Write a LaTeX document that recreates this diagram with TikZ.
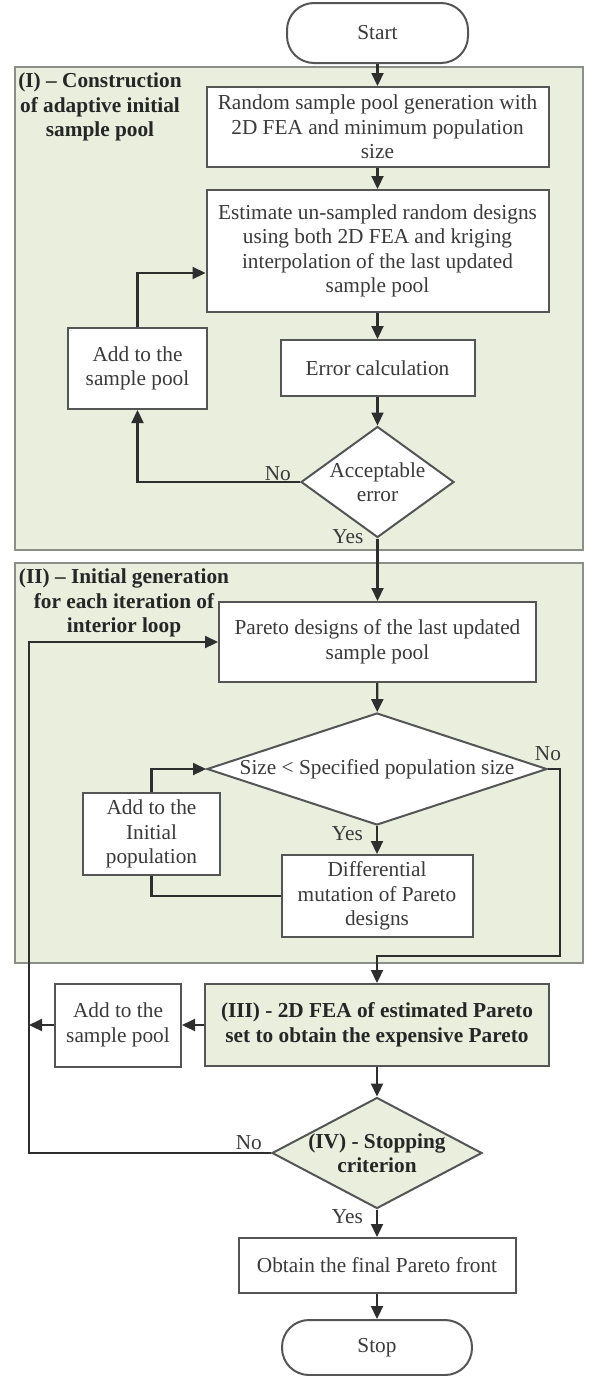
\documentclass[tikz,border=0pt]{standalone}
\usepackage{fontspec}
\setmainfont{Liberation Serif}
\usetikzlibrary{arrows.meta,shapes.geometric,calc}
\definecolor{secfill}{HTML}{E9EEDD}
\definecolor{secdraw}{HTML}{8C8F88}
\definecolor{boxdraw}{HTML}{555555}
\definecolor{txt}{HTML}{3A3A3A}
\definecolor{ttl}{HTML}{262626}
\definecolor{linec}{HTML}{2E2E2E}
\begin{document}
\begin{tikzpicture}[x=1pt,y=-1pt,
  font=\fontsize{21.3}{24.5}\selectfont,
  every node/.style={text=txt},
  sect/.style={draw=secdraw, fill=secfill, line width=2pt, minimum width=568pt, inner sep=0pt},
  proc/.style={draw=boxdraw, fill=white, line width=2pt, align=center, inner sep=0pt},
  gproc/.style={proc, fill=secfill, text=ttl, font=\bfseries\fontsize{21.3}{24.5}\selectfont},
  dec/.style={diamond, draw=boxdraw, fill=white, line width=2pt, inner sep=0pt},
  term/.style={draw=boxdraw, fill=white, line width=2pt, rounded corners=27pt, inner sep=0pt},
  sectitle/.style={font=\bfseries\fontsize{21.3}{24.5}\selectfont, align=center, text=ttl},
  conn/.style={draw=linec, line width=2.2pt, -{Triangle[length=13pt,width=12pt]}},
  plainline/.style={draw=linec, line width=2.2pt},
  lab/.style={inner sep=1pt}
]
\useasboundingbox (0,0) rectangle (591,1376);
% sections
\node[sect, minimum height=483pt] (secI) at (299,308.5) {};
\node[sect, minimum height=400pt] (secII) at (299,763) {};
\node[sectitle] (tI) at (100,107) {(I) – Construction\\of adaptive initial\\sample pool};
\node[sectitle] (tII) at (124,603) {(II) – Initial generation\\for each iteration of\\interior loop};
% nodes
\node[term, minimum width=181pt, minimum height=60pt] (start) at (377.5,33) {Start};
\node[proc, minimum width=342pt, minimum height=80pt] (b1) at (377.5,127) {Random sample pool generation with\\2D FEA and minimum population\\size};
\node[proc, minimum width=342pt, minimum height=122pt] (b2) at (377.5,251) {Estimate un-sampled random designs\\using both 2D FEA and kriging\\interpolation of the last updated\\sample pool};
\node[proc, minimum width=139pt, minimum height=81pt] (addI) at (137.5,368.5) {Add to the\\sample pool};
\node[proc, minimum width=194pt, minimum height=56pt] (err) at (377.5,368) {Error calculation};
\node[dec, minimum width=153pt, minimum height=111pt, label={[align=center]center:Acceptable\\error}] (d1) at (377.5,482) {};
\node[proc, minimum width=317pt, minimum height=80pt] (pareto) at (377.5,642) {Pareto designs of the last updated\\sample pool};
\node[dec, minimum width=340pt, minimum height=112pt, label={center:Size < Specified population size}] (d2) at (377,769) {};
\node[proc, minimum width=137pt, minimum height=82pt] (addII) at (151.5,834) {Add to the\\Initial\\population};
\node[proc, minimum width=191pt, minimum height=82pt] (diff) at (377,896) {Differential\\mutation of Pareto\\designs};
\node[gproc, minimum width=344pt, minimum height=82pt] (iii) at (377,1025) {(III) - 2D FEA of estimated Pareto\\set to obtain the expensive Pareto};
\node[proc, minimum width=126pt, minimum height=83pt] (addIII) at (118,1025) {Add to the\\sample pool};
\node[dec, fill=secfill, minimum width=210pt, minimum height=111pt, label={[align=center, text=ttl, font=\bfseries\fontsize{21.3}{24.5}\selectfont]center:(IV) - Stopping\\criterion}] (d3) at (377,1153) {};
\node[proc, minimum width=277pt, minimum height=55pt] (obtain) at (377,1265.5) {Obtain the final Pareto front};
\node[term, minimum width=190pt, minimum height=55pt] (stop) at (377,1347.5) {Stop};
% junction coordinates
\coordinate (j2) at (560,956);
\coordinate (j3) at (29,642);
\coordinate (j4) at (29,1025);
% connectors
\draw[conn] (start) -- (b1);
\draw[conn] (b1) -- (b2);
\draw[conn] (b2) -- (err);
\draw[conn] (err) -- (d1);
\draw[conn] (d1.west) -| (addI.south);
\draw[conn] (addI.north) |- ([yshift=-22pt]b2.west);
\draw[conn] (d1.south) -- (pareto.north);
\draw[conn] (pareto) -- (d2);
\draw[conn] (d2.south) -- (diff.north);
\draw[plainline] (diff.west) -| (addII.south);
\draw[conn] (addII.north) |- (d2.west);
\draw[conn] (d2.east) -| (j2) -| (iii.north);
\draw[conn] (iii.west) -- (addIII.east);
\draw[conn] (addIII.west) -- (j4);
\draw[conn] (d3.west) -| (j3) -- (pareto.west);
\draw[conn] (iii) -- (d3);
\draw[conn] (d3.south) -- (obtain.north);
\draw[conn] (obtain) -- (stop);
% labels
\node[lab, anchor=south east] (no1) at ([xshift=-8pt]d1.west) {No};
\node[lab, anchor=east] (yes1) at ([xshift=-13pt,yshift=2pt]d1.south) {Yes};
\node[lab, anchor=south] (no2) at ([yshift=7pt]d2.east) {No};
\node[lab, anchor=north east] (yes2) at ([xshift=-13pt,yshift=1pt]d2.south) {Yes};
\node[lab, anchor=south east] (no3) at ([xshift=-8pt,yshift=2pt]d3.west) {No};
\node[lab, anchor=north east] (yes3) at ([xshift=-13pt,yshift=1pt]d3.south) {Yes};
\end{tikzpicture}
\end{document}
